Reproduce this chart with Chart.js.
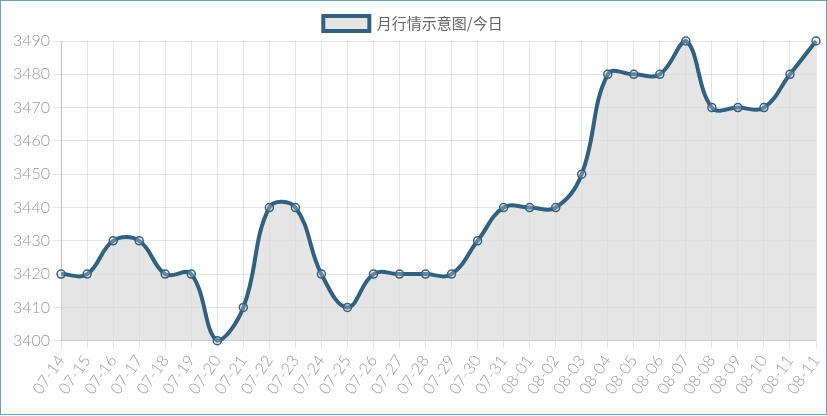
<!DOCTYPE html>
<html>
<head>
<meta charset="utf-8">
<script src="https://cdn.jsdelivr.net/npm/chart.js@4/dist/chart.umd.min.js"></script>
<style>
  html, body { margin: 0; padding: 0; background: #fff; }
  #wrap { position: relative; width: 825px; height: 413px; border: 1px solid #6d9fb8; }
</style>
</head>
<body>
<div id="wrap"><canvas id="chart"></canvas></div>
<script>
const dayLabels = ['07-14','07-15','07-16','07-17','07-18','07-19','07-20','07-21','07-22','07-23',
    '07-24','07-25','07-26','07-27','07-28','07-29','07-30','07-31','08-01','08-02',
    '08-03','08-04','08-05','08-06','08-07','08-08','08-09','08-10','08-11','08-11'];
const priceValues = [3420,3420,3430,3430,3420,3420,3400,3410,3440,3440,
    3420,3410,3420,3420,3420,3420,3430,3440,3440,3440,
    3450,3480,3480,3480,3490,3470,3470,3470,3480,3490];
const seriesName = '月行情示意图/今日';

const tickFont = { family: 'Lato, "Liberation Sans", sans-serif', size: 16, weight: 300 };

new Chart(document.getElementById('chart'), {
    type: 'line',
    data: {
        labels: dayLabels,
        datasets: [{
            label: seriesName,
            data: priceValues,
            borderColor: '#34607f',
            backgroundColor: 'rgba(220,220,220,0.75)',
            borderWidth: 4,
            fill: 'origin',
            tension: 0.4,
            clip: 8,
            pointRadius: 4,
            pointBorderWidth: 1.5,
            pointBorderColor: '#34607f',
            pointBackgroundColor: 'rgba(220,220,220,0.3)'
        }]
    },
    options: {
        responsive: true,
        maintainAspectRatio: false,
        animation: false,
        layout: { padding: { left: 9, right: 10, top: 3, bottom: 13 } },
        plugins: {
            legend: {
                position: 'top',
                labels: {
                    boxWidth: 46,
                    boxHeight: 15,
                    padding: 12,
                    color: '#666',
                    font: { family: '"Noto Sans CJK SC", sans-serif', size: 15 }
                }
            },
            tooltip: { enabled: false }
        },
        scales: {
            x: {
                afterFit: scale => { scale.paddingRight = 0; },
                grid: { color: 'rgba(0,0,0,0.1)', tickLength: 8 },
                border: { color: 'rgba(0,0,0,0.15)' },
                ticks: { color: '#999', font: tickFont, minRotation: 55, maxRotation: 55, autoSkip: false }
            },
            y: {
                min: 3400,
                max: 3490,
                grid: { color: 'rgba(0,0,0,0.1)', tickLength: 8 },
                border: { color: 'rgba(0,0,0,0.15)' },
                ticks: { color: '#999', font: tickFont, stepSize: 10, callback: v => String(v) }
            }
        }
    }
});
</script>
</body>
</html>
